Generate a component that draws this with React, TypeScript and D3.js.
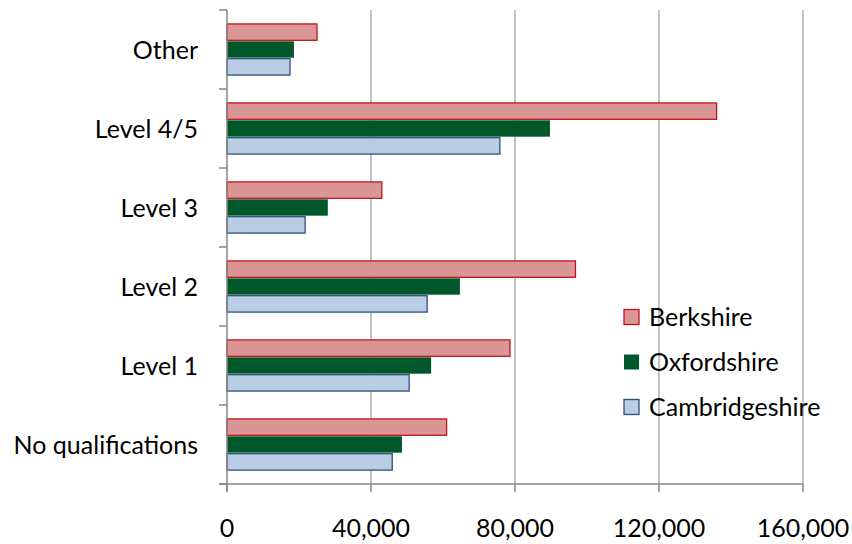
import React, { useEffect, useRef } from 'react';
import * as d3 from 'd3';

const categories = ['Other', 'Level 4/5', 'Level 3', 'Level 2', 'Level 1', 'No qualifications'];
const seriesNames = ['Berkshire', 'Oxfordshire', 'Cambridgeshire'];
const berkshire = [25000, 136000, 43000, 96800, 78600, 61000];
const oxfordshire = [18600, 89700, 28000, 64700, 56700, 48600];
const cambridgeshire = [17500, 75800, 21700, 55600, 50600, 45900];
const xTicks = [0, 40000, 80000, 120000, 160000];

const fills = ['#d99694', '#00582a', '#b9cde5'];
const strokes = ['#c0141c', '#00582a', '#2f4f7f'];

const Chart: React.FC = () => {
  const svgRef = useRef<SVGSVGElement>(null);

  useEffect(() => {
    if (!svgRef.current) return;
    const svg = d3.select(svgRef.current);
    svg.selectAll('*').remove();

    const width = 852;
    const height = 544;
    const left = 227;
    const right = 803;
    const top = 10;
    const bottom = 484;
    const font = 'Lato, "Open Sans", sans-serif';
    const fontSize = 25;

    svg.attr('width', width).attr('height', height);

    const x = d3.scaleLinear().domain([0, 160000]).range([left, right]);
    const y = d3.scaleBand<string>().domain(categories).range([top, bottom]).paddingInner(0.34).paddingOuter(0.17);
    const inner = d3.scaleBand<string>().domain(seriesNames).range([0, y.bandwidth()]);

    // gridlines
    svg
      .append('g')
      .selectAll('line')
      .data(xTicks.slice(1))
      .enter()
      .append('line')
      .attr('x1', (d) => x(d))
      .attr('x2', (d) => x(d))
      .attr('y1', top)
      .attr('y2', bottom)
      .attr('stroke', '#9a9a9a')
      .attr('stroke-width', 1.2);

    const series = [berkshire, oxfordshire, cambridgeshire];
    series.forEach((vals, si) => {
      svg
        .append('g')
        .selectAll('rect')
        .data(vals)
        .enter()
        .append('rect')
        .attr('x', x(0))
        .attr('y', (_, i) => (y(categories[i]) as number) + (inner(seriesNames[si]) as number) + 0.5)
        .attr('width', (d) => x(d) - x(0))
        .attr('height', inner.bandwidth() - 1)
        .attr('fill', fills[si])
        .attr('stroke', strokes[si])
        .attr('stroke-width', si === 1 ? 0 : 1.3);
    });

    // axes
    const axisColor = '#868686';
    svg
      .append('line')
      .attr('x1', left)
      .attr('x2', left)
      .attr('y1', top)
      .attr('y2', bottom + 8)
      .attr('stroke', axisColor)
      .attr('stroke-width', 1.5);
    svg
      .append('line')
      .attr('x1', left - 8)
      .attr('x2', right)
      .attr('y1', bottom)
      .attr('y2', bottom)
      .attr('stroke', axisColor)
      .attr('stroke-width', 1.5);

    const bandStep = (bottom - top) / categories.length;
    const yTicks = d3.range(categories.length + 1).map((i) => top + i * bandStep);
    svg
      .append('g')
      .selectAll('line')
      .data(yTicks)
      .enter()
      .append('line')
      .attr('x1', left - 8)
      .attr('x2', left)
      .attr('y1', (d) => d)
      .attr('y2', (d) => d)
      .attr('stroke', axisColor)
      .attr('stroke-width', 1.5);

    svg
      .append('g')
      .selectAll('line')
      .data(xTicks)
      .enter()
      .append('line')
      .attr('x1', (d) => x(d))
      .attr('x2', (d) => x(d))
      .attr('y1', bottom)
      .attr('y2', bottom + 8)
      .attr('stroke', axisColor)
      .attr('stroke-width', 1.5);

    svg
      .append('g')
      .selectAll('text')
      .data(xTicks)
      .enter()
      .append('text')
      .attr('x', (d) => x(d))
      .attr('y', 537)
      .attr('text-anchor', 'middle')
      .attr('font-family', font)
      .attr('font-size', fontSize)
      .attr('fill', '#000')
      .text((d) => d3.format(',')(d));

    svg
      .append('g')
      .selectAll('text')
      .data(categories)
      .enter()
      .append('text')
      .attr('x', 198)
      .attr('y', (d) => (y(d) as number) + y.bandwidth() / 2 + 9.5)
      .attr('text-anchor', 'end')
      .attr('font-family', font)
      .attr('font-size', fontSize)
      .attr('fill', '#000')
      .text((d) => d);

    // legend
    const legend = svg
      .append('g')
      .selectAll('g')
      .data(seriesNames)
      .enter()
      .append('g')
      .attr('transform', (_, i) => `translate(624, ${317 + i * 45})`);
    legend
      .append('rect')
      .attr('x', 0)
      .attr('y', -7.5)
      .attr('width', 15)
      .attr('height', 15)
      .attr('fill', (_, i) => fills[i])
      .attr('stroke', (_, i) => strokes[i])
      .attr('stroke-width', (_, i) => (i === 1 ? 0 : 1.3));
    legend
      .append('text')
      .attr('x', 25)
      .attr('y', 9)
      .attr('font-family', font)
      .attr('font-size', fontSize)
      .attr('fill', '#000')
      .text((d) => d);
  }, []);

  return <svg ref={svgRef} style={{ display: 'block' }}></svg>;
};

export default function App() {
  return (
    <div style={{ position: 'absolute', left: 0, top: 0, width: 852, height: 544, background: '#fff', overflow: 'hidden' }}>
      <Chart />
    </div>
  );
}
